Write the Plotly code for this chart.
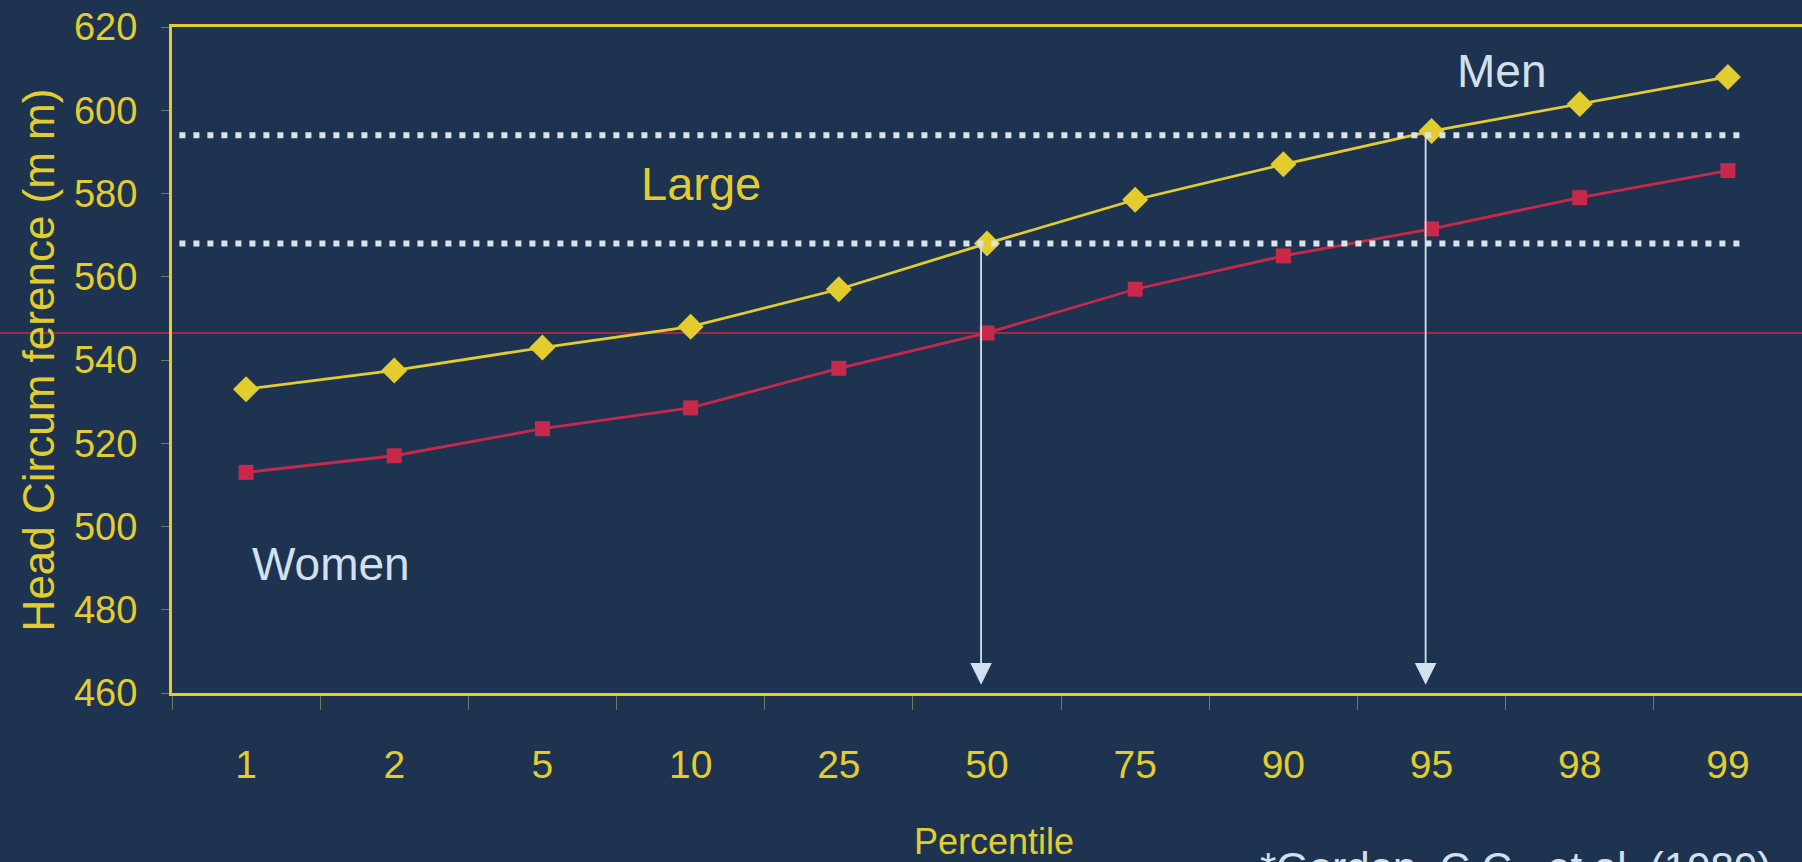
import plotly.graph_objects as go

percentiles = ["1", "2", "5", "10", "25", "50", "75", "90", "95", "98", "99"]
men = [533, 537.5, 543, 548, 557, 568, 578.5, 587, 595, 601.5, 608]
women = [513, 517, 523.5, 528.5, 538, 546.5, 557, 565, 571.5, 579, 585.5]
y_ticks = [460, 480, 500, 520, 540, 560, 580, 600, 620]
large_bounds = [568, 594]          # dotted band limits ("Large")
median_women = 546.5               # red reference line
arrow_percentiles = ["50", "95"]   # arrows from Men curve down to axis

BG = "#1d3350"
YEL = "#e3cd2e"
RED = "#c8284a"
PALE = "#d3e0ee"
FONT = "Liberation Sans, Arial, sans-serif"

W, H = 1802, 862
L, R, T, B = 172, 0, 27, 169
pw, ph = W - L - R, H - T - B


def px_x(p):
    return (p - L) / pw


def px_y(p):
    return (H - B - p) / ph


fig = go.Figure()

fig.add_trace(go.Scatter(
    x=percentiles, y=men, mode="lines+markers", name="Men",
    line=dict(color=YEL, width=2.8),
    marker=dict(symbol="diamond", size=20, color=YEL),
    showlegend=False))
fig.add_trace(go.Scatter(
    x=percentiles, y=women, mode="lines+markers", name="Women",
    line=dict(color=RED, width=2.8),
    marker=dict(symbol="square", size=15, color=RED),
    showlegend=False))

# red reference line spanning whole width
fig.add_shape(type="line", xref="paper", yref="y", x0=-0.11, x1=1.0,
              y0=median_women, y1=median_women,
              line=dict(color=RED, width=1.5), layer="below")

# dotted "Large" band limits
for yb in large_bounds:
    fig.add_shape(type="line", xref="x", yref="y", x0=-0.45, x1=10.12,
                  y0=yb, y1=yb,
                  line=dict(color="#dde2e8", width=6, dash="6px,8px"),
                  layer="above")

# arrows
for p in arrow_percentiles:
    i = percentiles.index(p)
    fig.add_annotation(x=i - 0.04, y=462, ax=i - 0.04, ay=men[i],
                       xref="x", yref="y", axref="x", ayref="y",
                       showarrow=True, arrowhead=2, arrowsize=2.4,
                       arrowwidth=1.8, arrowcolor=PALE, text="")

fig.add_annotation(x=3.07, y=582.5, xref="x", yref="y", text="Large",
                   showarrow=False, font=dict(family=FONT, size=47, color=YEL))
fig.add_annotation(x=8.47, y=609.5, xref="x", yref="y", text="Men",
                   showarrow=False, font=dict(family=FONT, size=46, color=PALE))
fig.add_annotation(x=0.57, y=491, xref="x", yref="y", text="Women",
                   showarrow=False, font=dict(family=FONT, size=46, color=PALE))

fig.add_annotation(x=px_x(994), y=px_y(864), xref="paper", yref="paper",
                   text="Percentile", showarrow=False,
                   font=dict(family=FONT, size=36, color=YEL))
fig.add_annotation(x=px_x(1258), y=px_y(868), xref="paper", yref="paper",
                   text="*Gordon, C.C., et al. (1989)", showarrow=False,
                   xanchor="left", yanchor="middle",
                   font=dict(family=FONT, size=42, color=PALE))

fig.update_layout(
    width=W, height=H,
    margin=dict(l=L, r=R, t=T, b=B),
    paper_bgcolor=BG, plot_bgcolor=BG,
    font=dict(family=FONT, color=YEL),
    xaxis=dict(
        type="category", range=[-0.5, 10.5],
        showline=True, mirror=True, linecolor=YEL, linewidth=3,
        showgrid=False, zeroline=False,
        ticks="outside", tickson="boundaries", ticklen=14, tickwidth=1,
        tickcolor="#6f7a6a", ticklabelstandoff=35,
        tickfont=dict(family=FONT, size=39, color=YEL),
    ),
    yaxis=dict(
        range=[460, 620], tickvals=y_ticks,
        showline=True, mirror=False, linecolor=YEL, linewidth=3,
        showgrid=False, zeroline=False,
        ticks="outside", ticklen=8, tickwidth=1, tickcolor="#6f7a6a",
        ticklabelstandoff=16,
        tickfont=dict(family=FONT, size=38, color=YEL),
        title=dict(text="Head Circum ference (m m)", standoff=6,
                   font=dict(family=FONT, size=44, color=YEL)),
    ),
)

fig.write_html("out.html",
               config={"displayModeBar": False},
               post_script="document.body.style.margin='0';"
                           "document.body.style.overflow='hidden';")
